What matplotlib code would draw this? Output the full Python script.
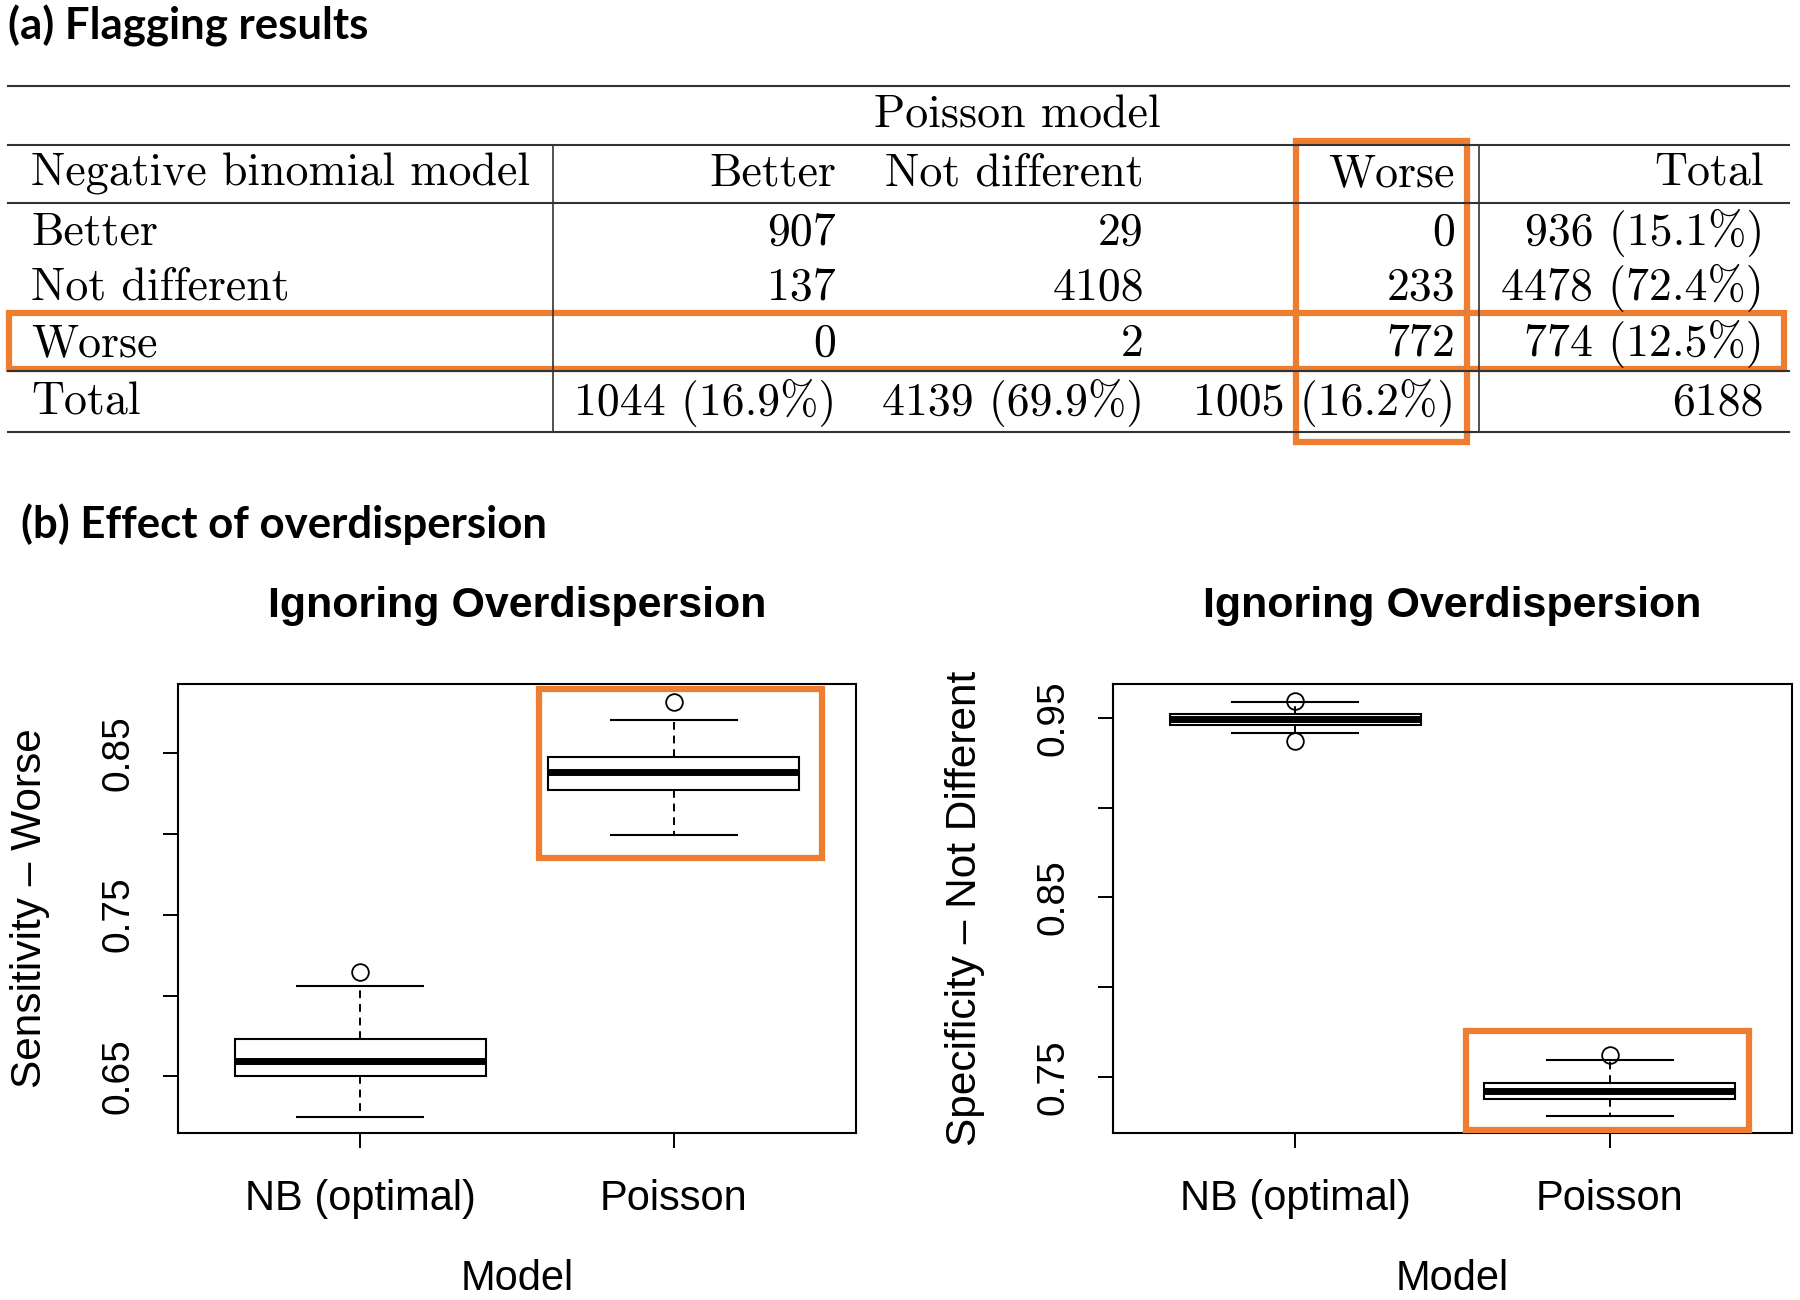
import matplotlib
matplotlib.use("Agg")
import matplotlib.pyplot as plt
from matplotlib.patches import Rectangle

# ---------------- data ----------------
nb_rows = ["Better", "Not different", "Worse"]
poisson_cols = ["Better", "Not different", "Worse"]
counts_better = [907, 29, 0]
counts_notdiff = [137, 4108, 233]
counts_worse = [0, 2, 772]
row_totals = [936, 4478, 774]
row_pcts = [15.1, 72.4, 12.5]
col_totals = [1044, 4139, 1005]
col_pcts = [16.9, 69.9, 16.2]
grand_total = 6188

box_labels = ["NB (optimal)", "Poisson"]
sens_whislo = [0.625, 0.799]
sens_q1 = [0.650, 0.827]
sens_med = [0.6597, 0.838]
sens_q3 = [0.673, 0.8472]
sens_whishi = [0.7056, 0.8706]
sens_fliers = [[0.7145], [0.8817]]

spec_whislo = [0.9415, 0.728]
spec_q1 = [0.9462, 0.7376]
spec_med = [0.9494, 0.7419]
spec_q3 = [0.952, 0.7468]
spec_whishi = [0.9592, 0.7594]
spec_fliers = [[0.9596, 0.937], [0.7622]]

sens_ticks = [0.65, 0.70, 0.75, 0.80, 0.85]
sens_ticklabels = ["0.65", "", "0.75", "", "0.85"]
spec_ticks = [0.75, 0.80, 0.85, 0.90, 0.95]
spec_ticklabels = ["0.75", "", "0.85", "", "0.95"]

ORANGE = "#ED7D31"
W, H = 1800, 1300

fig = plt.figure(figsize=(18, 13), dpi=100)


def make_box(rect_px, whislo, q1, med, q3, whishi, fliers, ticks, ticklabels,
             ylim, ylabel):
    l, t, w, h = rect_px
    ax = fig.add_axes([l / W, 1 - (t + h) / H, w / W, h / H])
    stats = []
    for i in range(len(whislo)):
        stats.append(dict(whislo=whislo[i], q1=q1[i], med=med[i], q3=q3[i],
                          whishi=whishi[i], fliers=fliers[i]))
    ax.bxp(stats, positions=[1, 2], widths=0.8, patch_artist=True,
           boxprops=dict(facecolor="white", edgecolor="black", linewidth=1.5),
           medianprops=dict(color="black", linewidth=5, solid_capstyle="butt"),
           whiskerprops=dict(color="black", linestyle=(0, (4, 3)), linewidth=1.4),
           capprops=dict(color="black", linewidth=1.5),
           flierprops=dict(marker="o", markerfacecolor="none",
                           markeredgecolor="black", markersize=12,
                           markeredgewidth=1.3))
    ax.set_xlim(0.42, 2.58)
    ax.set_ylim(*ylim)
    ax.set_yticks(ticks)
    ax.set_yticklabels(ticklabels, fontsize=28, family="Liberation Sans",
                       rotation=90, va="center")
    ax.set_xticks([1, 2])
    ax.set_xticklabels(box_labels, fontsize=30, family="Liberation Sans")
    ax.tick_params(axis="both", direction="out", length=11, width=1.4)
    ax.tick_params(axis="y", pad=19)
    ax.tick_params(axis="x", pad=22)
    for s in ax.spines.values():
        s.set_linewidth(1.5)
    ax.set_title("Ignoring Overdispersion", fontsize=31, fontweight="bold",
                 family="Liberation Sans", pad=48)
    ax.set_ylabel(ylabel, fontsize=30.5, family="Liberation Sans", va="center")
    ax.yaxis.set_label_coords(-0.218, 0.5)
    ax.set_xlabel("Model", fontsize=30, family="Liberation Sans", va="center")
    ax.xaxis.set_label_coords(0.5, -0.326)
    return ax


ax1 = make_box((178, 684, 678, 449), sens_whislo, sens_q1, sens_med, sens_q3,
               sens_whishi, sens_fliers, sens_ticks, sens_ticklabels,
               (0.615, 0.8926), "Sensitivity \u2013 Worse")
ax2 = make_box((1113, 684, 679, 449), spec_whislo, spec_q1, spec_med, spec_q3,
               spec_whishi, spec_fliers, spec_ticks, spec_ticklabels,
               (0.7187, 0.969), "Specificity \u2013 Not Different")

# ---------------- overlay (table + annotations) ----------------
ov = fig.add_axes([0, 0, 1, 1], zorder=10)
ov.set_xlim(0, W)
ov.set_ylim(H, 0)
ov.axis("off")
ov.patch.set_alpha(0)

hfont = dict(family="Lato", fontweight="bold", fontsize=31.5)
ov.text(8, 26, "(a) Flagging results", ha="left", va="center", **hfont)
ov.text(21, 524, "(b) Effect of overdispersion", ha="left", va="center", **hfont)

tf = dict(family="cmr10", fontsize=33, color="black")
rule = dict(color="#333333", linewidth=1.5)
for y in [86, 145, 203, 371, 432]:
    ov.plot([8, 1789], [y, y], **rule)
for x in [553, 1479]:
    ov.plot([x, x], [145, 432], color="#333333", linewidth=1.2)

dy = 3
ov.text(1017, 113 + dy, "Poisson model", ha="center", va="center", **tf)
col_right = [836, 1144, 1455]
row_y = [230 + dy, 285 + dy, 341 + dy]
ov.text(31, 171 + dy, "Negative binomial model", ha="left", va="center", **tf)
for x, c in zip(col_right, poisson_cols):
    ov.text(x, 171 + dy, c, ha="right", va="center", **tf)
ov.text(1764, 171 + dy, "Total", ha="right", va="center", **tf)

rows = [counts_better, counts_notdiff, counts_worse]
for y, name, vals, tot, pct in zip(row_y, nb_rows, rows, row_totals, row_pcts):
    ov.text(31, y, name, ha="left", va="center", **tf)
    for x, v in zip(col_right, vals):
        ov.text(x, y, str(v), ha="right", va="center", **tf)
    ov.text(1764, y, f"{tot} ({pct}%)", ha="right", va="center", **tf)

ov.text(31, 400 + dy, "Total", ha="left", va="center", **tf)
for x, tot, pct in zip(col_right, col_totals, col_pcts):
    ov.text(x, 400 + dy, f"{tot} ({pct}%)", ha="right", va="center", **tf)
ov.text(1764, 400 + dy, str(grand_total), ha="right", va="center", **tf)

# orange highlight boxes
ob = dict(fill=False, edgecolor=ORANGE, linewidth=4.5)
ov.add_patch(Rectangle((9, 313), 1775, 56, **ob))
ov.add_patch(Rectangle((1296, 141), 171, 301, **ob))
ov.add_patch(Rectangle((539, 689), 283, 169, **ob))
ov.add_patch(Rectangle((1466, 1031), 283, 99, **ob))

fig.savefig("out.png", dpi=100)
